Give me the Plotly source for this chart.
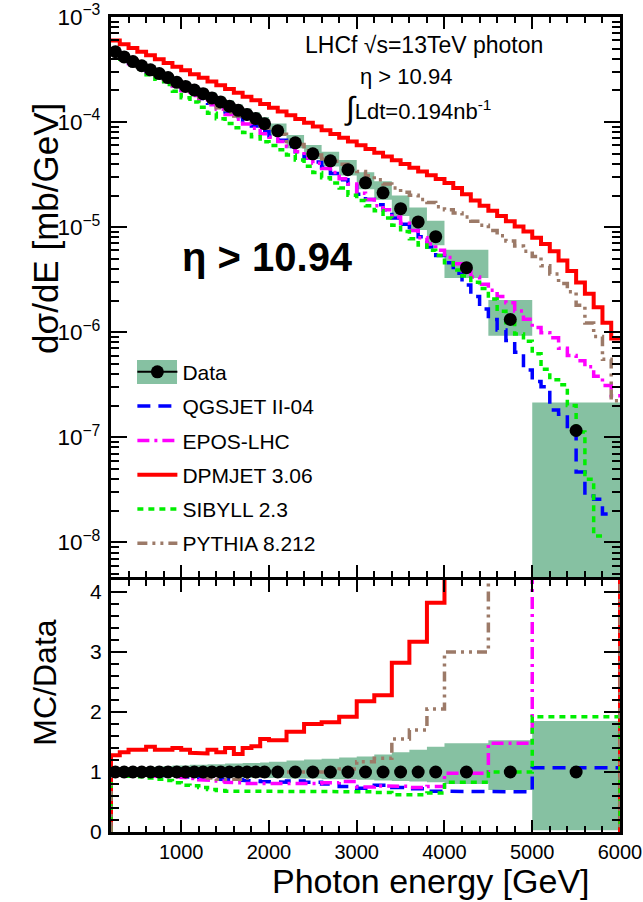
import plotly.graph_objects as go

# ---------------- data ----------------
# Data binning (GeV)
data_edges = [200, 300, 400, 500, 600, 700, 800, 900, 1000, 1100, 1200, 1300, 1400, 1500,
              1600, 1700, 1800, 1900, 2000, 2200, 2400, 2600, 2800, 3000, 3200, 3400, 3600,
              3800, 4000, 4500, 5000, 6000]
data_val = [4.667e-4, 4.169e-4, 3.767e-4, 3.436e-4, 3.141e-4, 2.897e-4, 2.649e-4, 2.388e-4,
            2.183e-4, 2.014e-4, 1.862e-4, 1.698e-4, 1.552e-4, 1.416e-4, 1.294e-4, 1.180e-4,
            1.079e-4, 9.64e-5, 8.26e-5, 6.34e-5, 4.99e-5, 4.28e-5, 3.52e-5, 2.64e-5, 2.12e-5,
            1.50e-5, 1.12e-5, 8.11e-6, 4.11e-6, 1.32e-6, 1.16e-7]
# relative uncertainty (up / down)
err_up = [0.04, 0.05, 0.06, 0.07, 0.08, 0.09, 0.10, 0.11, 0.11, 0.12, 0.12, 0.13, 0.13, 0.14,
          0.14, 0.15, 0.15, 0.16, 0.17, 0.19, 0.21, 0.22, 0.24, 0.26, 0.29, 0.33, 0.37, 0.42,
          0.48, 0.53, 0.85]
err_dn = [0.04, 0.04, 0.05, 0.05, 0.06, 0.06, 0.07, 0.07, 0.07, 0.08, 0.08, 0.08, 0.09, 0.09,
          0.09, 0.10, 0.10, 0.10, 0.10, 0.11, 0.11, 0.12, 0.12, 0.13, 0.14, 0.15, 0.16, 0.17,
          0.20, 0.30, 0.97]

# MC binning in the spectrum panel (100 GeV bins)
mc_edges = [200, 300, 400, 500, 600, 700, 800, 900, 1000, 1100, 1200, 1300, 1400, 1500, 1600,
            1700, 1800, 1900, 2000, 2100, 2200, 2300, 2400, 2500, 2600, 2700, 2800, 2900, 3000,
            3100, 3200, 3300, 3400, 3500, 3600, 3700, 3800, 3900, 4000, 4100, 4200, 4300, 4400,
            4500, 4600, 4700, 4800, 4900, 5000, 5100, 5200, 5300, 5400, 5500, 5600, 5700, 5800,
            5900, 6000]

# log10(dσ/dE [mb/GeV]) per 100 GeV bin
log_qgsjet = [-3.339, -3.389, -3.437, -3.477, -3.521, -3.559, -3.604, -3.653, -3.697, -3.736,
              -3.776, -3.820, -3.864, -3.904, -3.947, -3.993, -4.037, -4.091, -4.135, -4.174,
              -4.233, -4.283, -4.342, -4.381, -4.431, -4.490, -4.549, -4.608, -4.687, -4.737,
              -4.786, -4.835, -4.914, -4.973, -5.033, -5.092, -5.190, -5.269, -5.34, -5.44,
              -5.55, -5.66, -5.78, -5.88, -5.98, -6.08, -6.19, -6.36, -6.47, -6.52, -6.74,
              -6.78, -6.93, -7.33, -7.56, -7.59, -7.73, None]
log_epos = [-3.343, -3.398, -3.446, -3.485, -3.530, -3.569, -3.613, -3.657, -3.702, -3.746,
            -3.789, -3.835, -3.879, -3.928, -3.973, -4.018, -4.058, -4.112, -4.145, -4.184,
            -4.233, -4.283, -4.342, -4.391, -4.441, -4.480, -4.539, -4.589, -4.677, -4.737,
            -4.796, -4.835, -4.904, -4.963, -5.033, -5.101, -5.161, -5.220, -5.289, -5.348,
            -5.416, -5.475, -5.544, -5.602, -5.661, -5.720, -5.799, -5.877, -5.956, -6.005,
            -6.054, -6.153, -6.222, -6.271, -6.330, -6.419, -6.508, -6.606]
log_dpmjet = [-3.223, -3.259, -3.294, -3.330, -3.365, -3.402, -3.437, -3.473, -3.508, -3.544,
              -3.579, -3.615, -3.650, -3.686, -3.721, -3.758, -3.793, -3.829, -3.864, -3.900,
              -3.935, -3.971, -4.006, -4.042, -4.077, -4.114, -4.150, -4.185, -4.221, -4.256,
              -4.292, -4.327, -4.363, -4.398, -4.434, -4.470, -4.506, -4.541, -4.579, -4.628,
              -4.687, -4.746, -4.796, -4.845, -4.894, -4.944, -4.993, -5.042, -5.102, -5.161,
              -5.230, -5.318, -5.417, -5.526, -5.634, -5.763, -5.911, -6.059]
log_sibyll = [-3.343, -3.402, -3.456, -3.499, -3.549, -3.593, -3.642, -3.706, -3.768, -3.808,
              -3.859, -3.917, -3.968, -4.013, -4.053, -4.099, -4.139, -4.188, -4.224, -4.263,
              -4.313, -4.362, -4.421, -4.480, -4.529, -4.579, -4.628, -4.697, -4.746, -4.796,
              -4.845, -4.914, -4.983, -5.042, -5.111, -5.170, -5.220, -5.269, -5.338, -5.407,
              -5.466, -5.525, -5.584, -5.683, -5.801, -5.909, -6.018, -6.087, -6.205, -6.353,
              -6.452, -6.501, -6.698, -6.95, -7.40, -7.94, None, None]
log_pythia = [-3.339, -3.384, -3.433, -3.473, -3.516, -3.551, -3.595, -3.643, -3.683, -3.722,
              -3.766, -3.815, -3.864, -3.908, -3.943, -3.973, -3.999, -4.034, -4.075, -4.115,
              -4.184, -4.214, -4.273, -4.313, -4.352, -4.372, -4.401, -4.441, -4.470, -4.510,
              -4.549, -4.589, -4.628, -4.668, -4.697, -4.737, -4.766, -4.806, -4.835, -4.865,
              -4.904, -4.943, -4.983, -5.032, -5.081, -5.131, -5.180, -5.230, -5.279, -5.368,
              -5.447, -5.536, -5.615, -5.744, -5.912, -6.041, -6.258, -6.652]

# MC / Data ratios in the data binning
ratio_qgsjet = [0.98, 0.98, 0.97, 0.97, 0.96, 0.95, 0.94, 0.93, 0.92, 0.91, 0.90, 0.89, 0.88, 0.88,
                0.87, 0.86, 0.85, 0.84, 0.83, 0.85, 0.83, 0.80, 0.76, 0.73, 0.78, 0.74, 0.72, 0.68,
                0.67, 0.67, 1.07]
ratio_epos = [0.97, 0.96, 0.95, 0.95, 0.94, 0.93, 0.92, 0.92, 0.91, 0.89, 0.87, 0.86, 0.85, 0.83,
              0.82, 0.81, 0.81, 0.80, 0.80, 0.80, 0.81, 0.82, 0.84, 0.75, 0.77, 0.76, 0.74, 0.76,
              0.98, 1.48, 4.9]
ratio_dpmjet = [1.28, 1.33, 1.37, 1.37, 1.42, 1.37, 1.37, 1.40, 1.37, 1.32, 1.31, 1.37, 1.33, 1.40,
                1.30, 1.40, 1.43, 1.55, 1.53, 1.67, 1.80, 1.83, 1.92, 2.18, 2.28, 2.82, 3.17, 3.82,
                5.2, 8.9, 39.0]
ratio_sibyll = [0.97, 0.95, 0.93, 0.92, 0.90, 0.88, 0.86, 0.82, 0.78, 0.77, 0.74, 0.71, 0.69, 0.68,
                0.68, 0.67, 0.67, 0.67, 0.68, 0.68, 0.67, 0.67, 0.67, 0.67, 0.66, 0.62, 0.62, 0.65,
                0.83, 1.00, 1.92]
ratio_pythia = [0.98, 0.99, 0.98, 0.98, 0.97, 0.97, 0.96, 0.95, 0.95, 0.94, 0.92, 0.90, 0.88, 0.87,
                0.88, 0.90, 0.93, 0.96, 0.98, 1.00, 1.00, 1.00, 1.05, 1.17, 1.23, 1.55, 1.70, 2.05,
                3.0, 6.5, 14.0]

model_names = ["QGSJET II-04", "EPOS-LHC", "DPMJET 3.06", "SIBYLL 2.3", "PYTHIA 8.212"]

# ---------------- styling ----------------
FONT = "Liberation Sans"
GREEN_BOX = "rgb(134,193,162)"
styles = {
    "QGSJET II-04": dict(color="#0000ff", width=3.5, dash="13px,8px"),
    "EPOS-LHC": dict(color="#ff00ff", width=3.5, dash="12px,5px,3px,5px"),
    "DPMJET 3.06": dict(color="#ff0000", width=4, dash="solid"),
    "SIBYLL 2.3": dict(color="#00ee00", width=3.5, dash="6px,5px"),
    "PYTHIA 8.212": dict(color="#9c7a68", width=3.5, dash="10px,5px,3px,5px,3px,5px"),
}
mc_logs = {"QGSJET II-04": log_qgsjet, "EPOS-LHC": log_epos, "DPMJET 3.06": log_dpmjet,
           "SIBYLL 2.3": log_sibyll, "PYTHIA 8.212": log_pythia}
mc_ratios = {"QGSJET II-04": ratio_qgsjet, "EPOS-LHC": ratio_epos, "DPMJET 3.06": ratio_dpmjet,
             "SIBYLL 2.3": ratio_sibyll, "PYTHIA 8.212": ratio_pythia}


def step_xy(edges, vals):
    xs, ys = [], []
    for lo, hi, v in zip(edges[:-1], edges[1:], vals):
        xs += [lo, hi]
        ys += [v, v]
    return xs, ys


def boxes_xy(edges, lows, highs):
    xs, ys = [], []
    for lo, hi, y0, y1 in zip(edges[:-1], edges[1:], lows, highs):
        xs += [lo, hi, hi, lo, lo, None]
        ys += [y0, y0, y1, y1, y0, None]
    return xs, ys


centers = [(a + b) / 2 for a, b in zip(data_edges[:-1], data_edges[1:])]

fig = go.Figure()

# ---- top panel: data uncertainty boxes
bx, by = boxes_xy(data_edges,
                  [v * (1 - d) for v, d in zip(data_val, err_dn)],
                  [v * (1 + u) for v, u in zip(data_val, err_up)])
fig.add_trace(go.Scatter(x=bx, y=by, mode="lines", fill="toself", fillcolor=GREEN_BOX,
                         line=dict(width=0, color=GREEN_BOX), showlegend=False,
                         hoverinfo="skip", xaxis="x", yaxis="y"))

# legend-only entry for Data
fig.add_trace(go.Scatter(x=[None], y=[None], mode="lines+markers", name="Data",
                         line=dict(color="black", width=2),
                         marker=dict(color="black", size=13), legendgroup="g0",
                         xaxis="x", yaxis="y"))

# ---- top panel: MC histograms
for i, name in enumerate(model_names):
    vals = [None if v is None else 10 ** v for v in mc_logs[name]]
    xs, ys = step_xy(mc_edges, vals)
    st = styles[name]
    fig.add_trace(go.Scatter(x=xs, y=ys, mode="lines", name=name,
                             line=dict(color=st["color"], width=st["width"], dash=st["dash"]),
                             legendgroup="g%d" % (i + 1), xaxis="x", yaxis="y",
                             connectgaps=False))

# ---- top panel: data points
fig.add_trace(go.Scatter(x=centers, y=data_val, mode="markers", showlegend=False,
                         marker=dict(color="black", size=13), xaxis="x", yaxis="y"))

# ---- bottom panel: data band
rx, ry = boxes_xy(data_edges, [1 - d for d in err_dn], [1 + u for u in err_up])
fig.add_trace(go.Scatter(x=rx, y=ry, mode="lines", fill="toself", fillcolor=GREEN_BOX,
                         line=dict(width=0, color=GREEN_BOX), showlegend=False,
                         hoverinfo="skip", xaxis="x2", yaxis="y2"))

# ---- bottom panel: ratios
for name in model_names:
    xs, ys = step_xy(data_edges, mc_ratios[name])
    xs = [data_edges[0]] + xs + [data_edges[-1]]
    ys = [0] + ys + [0]
    st = styles[name]
    fig.add_trace(go.Scatter(x=xs, y=ys, mode="lines", showlegend=False,
                             line=dict(color=st["color"], width=st["width"], dash=st["dash"]),
                             xaxis="x2", yaxis="y2"))

fig.add_trace(go.Scatter(x=centers, y=[1.0] * len(centers), mode="markers", showlegend=False,
                         marker=dict(color="black", size=13), xaxis="x2", yaxis="y2"))

# ---------------- layout ----------------
axis_common = dict(showline=True, linewidth=3, linecolor="black", mirror="allticks",
                   ticks="inside", tickcolor="black", showgrid=False, zeroline=False,
                   automargin=False)

fig.update_layout(
    width=643, height=902,
    margin=dict(l=111, r=23, t=17, b=70, autoexpand=False),
    paper_bgcolor="white", plot_bgcolor="white",
    font=dict(family=FONT, color="black"),
    xaxis=dict(domain=[0, 1], range=[200, 6000], anchor="y", showticklabels=False,
               tick0=0, dtick=1000, ticklen=12, tickwidth=2,
               minor=dict(ticks="inside", dtick=200, tick0=0, ticklen=6, tickcolor="black",
                          tickwidth=1.5),
               **axis_common),
    yaxis=dict(domain=[0.3129, 1], type="log", range=[-8.33, -3], anchor="x",
               tick0=0, dtick=1, exponentformat="power", ticklen=16, tickwidth=2,
               tickfont=dict(size=18), ticklabelstandoff=4,
               minor=dict(ticks="inside", dtick="D1", ticklen=8, tickcolor="black",
                          tickwidth=1.5),
               **axis_common),
    xaxis2=dict(domain=[0, 1], range=[200, 6000], anchor="y2", matches="x",
                tick0=0, dtick=1000, ticklen=12, tickwidth=2, tickfont=dict(size=20),
                minor=dict(ticks="inside", dtick=200, tick0=0, ticklen=6, tickcolor="black",
                           tickwidth=1.5),
                **axis_common),
    yaxis2=dict(domain=[0, 0.3092], range=[0, 4.2], anchor="x2", tick0=0, dtick=1,
                ticklen=16, tickwidth=2, tickfont=dict(size=21), ticklabelstandoff=2,
                minor=dict(ticks="inside", dtick=0.2, tick0=0, ticklen=8, tickcolor="black",
                           tickwidth=1.5),
                **axis_common),
    legend=dict(x=0.042, y=0.5894, xanchor="left", yanchor="top", bgcolor="rgba(0,0,0,0)",
                font=dict(size=21, family=FONT), itemwidth=40, tracegroupgap=4,
                borderwidth=0),
    showlegend=True,
)

# green box behind the "Data" legend symbol
fig.add_shape(type="rect", xref="paper", yref="paper", x0=0.0511, x1=0.1297,
              y0=0.5497, y1=0.5791, fillcolor=GREEN_BOX, line=dict(width=0), layer="above")

annos = [
    dict(text="dσ/dE [mb/GeV]", x=-0.13, y=0.741, textangle=-90, font=dict(size=35)),
    dict(text="MC/Data", x=-0.13, y=0.183, textangle=-90, font=dict(size=32)),
    dict(text="Photon energy [GeV]", x=0.9450, y=-0.0600, xanchor="right", font=dict(size=34)),
    dict(text="<b>η &gt; 10.94</b>", x=0.3084, y=0.706, font=dict(size=40)),
    dict(text="LHCf √s=13TeV photon", x=0.615, y=0.9656, font=dict(size=23)),
    dict(text="η &gt; 10.94", x=0.580, y=0.9264, font=dict(size=22)),
    dict(text="<span style='font-size:32px'>∫</span>Ldt=0.194nb<sup>-1</sup>", x=0.603,
         y=0.888, font=dict(size=22)),
]
for a in annos:
    base = dict(xref="paper", yref="paper", showarrow=False, xanchor="center",
                yanchor="middle")
    f = a.pop("font")
    base.update(a)
    base["font"] = dict(family=FONT, color="black", size=f["size"])
    fig.add_annotation(**base)

fig.write_html("out.html", config={"displayModeBar": False},
               post_script="document.body.style.margin='0px';")
